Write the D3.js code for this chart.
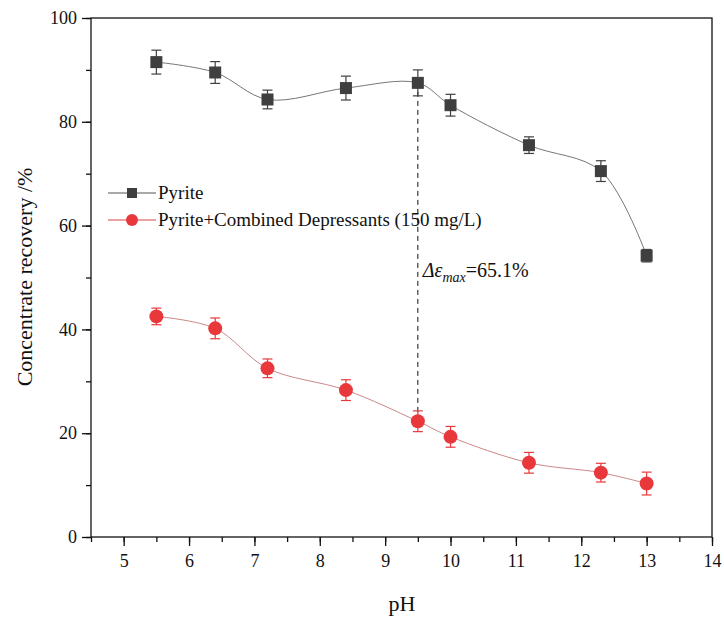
<!DOCTYPE html>
<html><head><meta charset="utf-8">
<script src="https://cdn.jsdelivr.net/npm/d3@7"></script>
<style>body{margin:0;background:#fff}svg{display:block}svg text, svg tspan{font-family:"Liberation Serif","Times New Roman",serif !important;fill:#111}</style>
</head><body><svg id="c" width="724" height="620" style="font-family:'Liberation Serif',serif"></svg>
<script>
const pH = [5.5, 6.4, 7.2, 8.4, 9.5, 10, 11.2, 12.3, 13];
const pyrite = [91.5, 89.5, 84.3, 86.5, 87.5, 83.2, 75.5, 70.5, 54.2];
const pyriteErr = [2.3, 2.1, 1.8, 2.3, 2.5, 2.1, 1.6, 2.0, 1.2];
const depressed = [42.5, 40.2, 32.5, 28.3, 22.3, 19.3, 14.3, 12.4, 10.3];
const depressedErr = [1.6, 2.0, 1.8, 2.0, 2.0, 2.0, 2.0, 1.8, 2.2];
const xTicks = [5, 6, 7, 8, 9, 10, 11, 12, 13, 14];
const yTicks = [0, 20, 40, 60, 80, 100];
const seriesNames = ["Pyrite", "Pyrite+Combined Depressants (150 mg/L)"];
const maxPH = 9.5, maxTop = 87.5, maxBottom = 22.3, deltaMax = "65.1%";

const SERIF = "'Liberation Serif','Times New Roman',serif";
const svg = d3.select("#c");
const m = {l: 91, r: 712, t: 18, b: 537};
const x = d3.scaleLinear().domain([4.5, 14]).range([m.l, m.r]);
const y = d3.scaleLinear().domain([0, 100]).range([m.b, m.t]);

// frame
svg.append("rect").attr("x", m.l).attr("y", m.t).attr("width", m.r - m.l).attr("height", m.b - m.t)
  .attr("fill", "none").attr("stroke", "#111").attr("stroke-width", 1.3);

// x axis
const xa = svg.append("g").attr("transform", `translate(0,${m.b})`);
xa.call(d3.axisBottom(x).tickValues(d3.range(4.5, 14.01, 0.5)).tickSize(5).tickFormat(""));
xa.append("g").call(d3.axisBottom(x).tickValues(xTicks).tickSize(9).tickPadding(8).tickFormat(d3.format("d")));
xa.selectAll("path.domain").remove();
xa.selectAll("line").attr("stroke", "#111").attr("stroke-width", 1.3);
xa.selectAll("text").style("font-family", SERIF).style("font-size", "18px").attr("fill", "#111");

// y axis
const ya = svg.append("g").attr("transform", `translate(${m.l},0)`);
ya.call(d3.axisLeft(y).tickValues(d3.range(0, 101, 10)).tickSize(5).tickFormat(""));
ya.append("g").call(d3.axisLeft(y).tickValues(yTicks).tickSize(9).tickPadding(5).tickFormat(d3.format("d")));
ya.selectAll("path.domain").remove();
ya.selectAll("line").attr("stroke", "#111").attr("stroke-width", 1.3);
ya.selectAll("text").style("font-family", SERIF).style("font-size", "18px").attr("fill", "#111");

// axis titles
svg.append("text").attr("x", 402).attr("y", 611).attr("text-anchor", "middle").style("font-family", SERIF).style("font-size", "22px").text("pH");
svg.append("text").attr("transform", "translate(32,277) rotate(-90)").attr("text-anchor", "middle")
  .style("font-family", SERIF).style("font-size", "22px").text("Concentrate recovery /%");

// annotation dashed line
svg.append("line").attr("x1", x(maxPH)).attr("x2", x(maxPH)).attr("y1", y(maxTop)).attr("y2", y(maxBottom))
  .attr("stroke", "#111").attr("stroke-width", 1).attr("stroke-dasharray", "5,4");
const ann = svg.append("text").attr("x", x(maxPH) + 5).attr("y", 277).style("font-family", SERIF).style("font-size", "20px");
ann.append("tspan").style("font-style", "italic").text("Δε");
ann.append("tspan").style("font-style", "italic").style("font-size", "14px").attr("dy", 5).text("max");
ann.append("tspan").attr("dy", -5).text("=" + deltaMax);

function drawSeries(vals, errs, lineColor, fill, shape) {
  const pts = pH.map((p, i) => [p, vals[i], errs[i]]);
  const line = d3.line().x(d => x(d[0])).y(d => y(d[1])).curve(d3.curveCatmullRom.alpha(0.5));
  svg.append("path").datum(pts).attr("d", line).attr("fill", "none").attr("stroke", lineColor).attr("stroke-width", 1);
  const g = svg.append("g");
  pts.forEach(d => {
    const cx = x(d[0]);
    g.append("line").attr("x1", cx).attr("x2", cx).attr("y1", y(d[1] + d[2])).attr("y2", y(d[1] - d[2])).attr("stroke", fill).attr("stroke-width", 1.2);
    [d[1] + d[2], d[1] - d[2]].forEach(v => g.append("line").attr("x1", cx - 5).attr("x2", cx + 5).attr("y1", y(v)).attr("y2", y(v)).attr("stroke", fill).attr("stroke-width", 1.2));
    if (shape === "square") g.append("rect").attr("x", cx - 6).attr("y", y(d[1]) - 6).attr("width", 12).attr("height", 12).attr("fill", fill);
    else g.append("circle").attr("cx", cx).attr("cy", y(d[1])).attr("r", 7).attr("fill", fill);
  });
}
drawSeries(pyrite, pyriteErr, "#777", "#3f3f3f", "square");
drawSeries(depressed, depressedErr, "#c88", "#e8383c", "circle");

// legend
const lg = svg.append("g");
[[193, "#555", "#3f3f3f", "square"], [220, "#d44", "#e8383c", "circle"]].forEach((r, i) => {
  lg.append("line").attr("x1", 108).attr("x2", 156).attr("y1", r[0]).attr("y2", r[0]).attr("stroke", r[1]).attr("stroke-width", 1);
  if (r[3] === "square") lg.append("rect").attr("x", 127).attr("y", r[0] - 5).attr("width", 10).attr("height", 10).attr("fill", r[2]);
  else lg.append("circle").attr("cx", 132).attr("cy", r[0]).attr("r", 6).attr("fill", r[2]);
  lg.append("text").attr("x", 158).attr("y", r[0] + 6).style("font-family", SERIF).style("font-size", "19px").text(seriesNames[i]);
});
</script></body></html>
